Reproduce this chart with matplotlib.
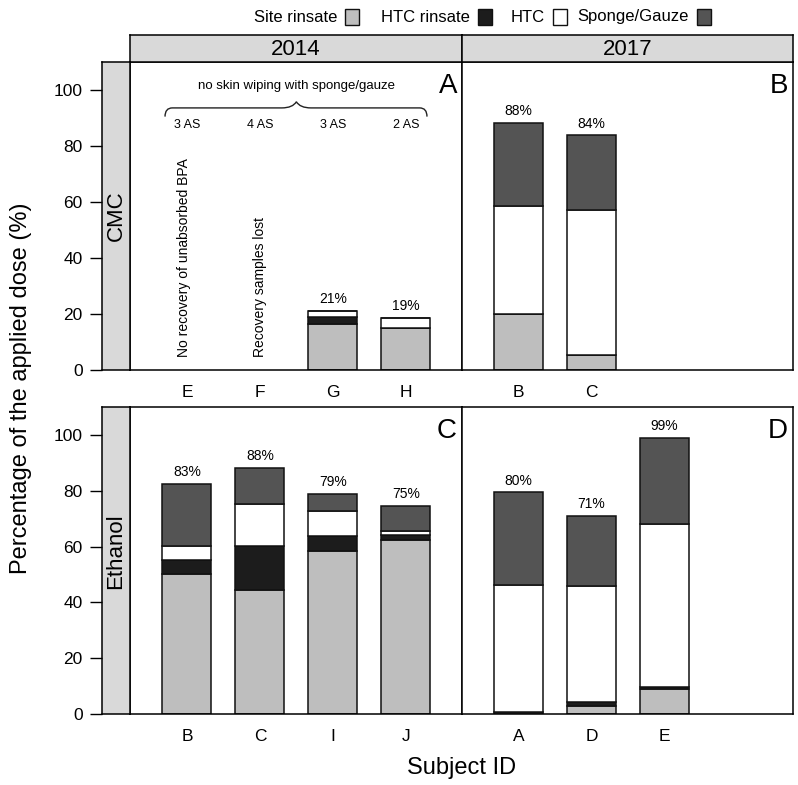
import matplotlib
matplotlib.use('Agg')
import matplotlib.pyplot as plt
from matplotlib.patches import Rectangle, PathPatch
from matplotlib.path import Path
import numpy as np

plt.rcParams['font.family'] = ['Liberation Sans', 'DejaVu Sans']

##### data (% of applied dose), stacked: site rinsate, HTC rinsate, HTC, sponge/gauze
cmc14_ids = ['E', 'F', 'G', 'H']
cmc14_site = [0, 0, 16.3, 14.9]
cmc14_htcr = [0, 0, 2.7, 0]
cmc14_htc = [0, 0, 2.1, 3.6]
cmc14_sponge = [0, 0, 0, 0]
cmc14_lab = ['', '', '21%', '19%']
cmc14_as = ['3 AS', '4 AS', '3 AS', '2 AS']

cmc17_ids = ['B', 'C']
cmc17_site = [19.9, 5.5]
cmc17_htcr = [0, 0]
cmc17_htc = [38.8, 51.6]
cmc17_sponge = [29.6, 26.7]
cmc17_lab = ['88%', '84%']

eth14_ids = ['B', 'C', 'I', 'J']
eth14_site = [50.2, 44.5, 58.3, 62.5]
eth14_htcr = [5.0, 15.6, 5.6, 1.8]
eth14_htc = [4.9, 15.1, 8.7, 1.4]
eth14_sponge = [22.3, 12.9, 6.2, 8.9]
eth14_lab = ['83%', '88%', '79%', '75%']

eth17_ids = ['A', 'D', 'E']
eth17_site = [0.8, 2.9, 8.8]
eth17_htcr = [0, 1.5, 0.7]
eth17_htc = [45.6, 41.3, 58.7]
eth17_sponge = [33.0, 25.4, 30.8]
eth17_lab = ['80%', '71%', '99%']

seg_names = ['Site rinsate', 'HTC rinsate', 'HTC', 'Sponge/Gauze']
seg_cols = ['#bebebe', '#1c1c1c', '#ffffff', '#545454']
strip_col = '#d9d9d9'

W, H = 798, 785
fig = plt.figure(figsize=(W / 100, H / 100), dpi=100)

def px_axes(x0, y0, x1, y1):
    return fig.add_axes([x0 / W, 1 - y1 / H, (x1 - x0) / W, (y1 - y0) / H])

XL = (-0.78, 3.77)
YL = (0, 110)
LW = 1.1

def panel(x0, y0, x1, y1, ids, segs, labs, letter):
    ax = px_axes(x0, y0, x1, y1)
    x = np.arange(len(ids))
    tot = np.sum(segs, axis=0)
    for i in x:
        if tot[i] == 0:
            continue
        bottom = 0
        for k in range(4):
            ax.bar(i, segs[k][i], bottom=bottom, width=0.67, color=seg_cols[k],
                   edgecolor='#111111', linewidth=LW)
            bottom += segs[k][i]
        ax.text(i, tot[i] + 1.7, labs[i], ha='center', va='bottom', fontsize=10)
    ax.set_xlim(XL)
    ax.set_ylim(YL)
    ax.set_xticks(x)
    ax.set_xticklabels(ids, fontsize=12.5)
    ax.tick_params(axis='x', length=0, pad=11)
    ax.set_yticks([])
    for s in ax.spines.values():
        s.set_linewidth(LW)
    ax.text(0.985, 0.965, letter, transform=ax.transAxes, ha='right', va='top', fontsize=20)
    return ax

def left_strip(y0, y1, name, ypos):
    ax = px_axes(102, y0, 130, y1)
    ax.set_facecolor(strip_col)
    ax.set_xlim(0, 1)
    ax.set_ylim(YL)
    ax.set_xticks([])
    ax.set_yticks([0, 20, 40, 60, 80, 100])
    ax.tick_params(axis='y', length=9, width=1.0, pad=5, labelsize=12.5)
    for s in ax.spines.values():
        s.set_linewidth(LW)
    ax.text(0.5, ypos, name, rotation=90, ha='center', va='center', fontsize=16,
            transform=ax.transAxes)

def top_strip(x0, x1, name):
    ax = px_axes(x0, 35, x1, 62)
    ax.set_facecolor(strip_col)
    ax.set_xticks([])
    ax.set_yticks([])
    for s in ax.spines.values():
        s.set_linewidth(LW)
    ax.text(0.5, 0.48, name, ha='center', va='center', fontsize=16, transform=ax.transAxes)

segsA = [cmc14_site, cmc14_htcr, cmc14_htc, cmc14_sponge]
segsB = [cmc17_site, cmc17_htcr, cmc17_htc, cmc17_sponge]
segsC = [eth14_site, eth14_htcr, eth14_htc, eth14_sponge]
segsD = [eth17_site, eth17_htcr, eth17_htc, eth17_sponge]

axA = panel(130, 62, 462, 370, cmc14_ids, segsA, cmc14_lab, 'A')
axB = panel(462, 62, 793, 370, cmc17_ids, segsB, cmc17_lab, 'B')
axC = panel(130, 407, 462, 714, eth14_ids, segsC, eth14_lab, 'C')
axD = panel(462, 407, 793, 714, eth17_ids, segsD, eth17_lab, 'D')

top_strip(130, 462, '2014')
top_strip(462, 793, '2017')
left_strip(62, 370, 'CMC', 0.5)
left_strip(407, 714, 'Ethanol', 0.53)

##### panel A notes
axA.text(1.5, 101.5, 'no skin wiping with sponge/gauze', ha='center', va='center',
         fontsize=9.5)
for i, s in enumerate(cmc14_as):
    axA.text(i, 87.5, s, ha='center', va='center', fontsize=9)
# curly brace
xa, xb, xm = -0.3, 3.29, 1.5
yb, yl, yt = 90.5, 93.6, 95.8
verts = [(xa, yb), (xa, yl), (xa + 0.1, yl), (xa + 0.2, yl),
         (xm - 0.2, yl), (xm - 0.05, yl), (xm, yt),
         (xm + 0.05, yl), (xm + 0.2, yl),
         (xb - 0.2, yl), (xb - 0.1, yl), (xb, yl), (xb, yb)]
codes = [Path.MOVETO, Path.CURVE3, Path.CURVE3, Path.LINETO,
         Path.LINETO, Path.CURVE3, Path.CURVE3,
         Path.CURVE3, Path.CURVE3,
         Path.LINETO, Path.LINETO, Path.CURVE3, Path.CURVE3]
axA.add_patch(PathPatch(Path(verts, codes), fill=False, lw=1.0, color='#222222'))
axA.text(-0.04, 4.6, 'No recovery of unabsorbed BPA', rotation=90, ha='center',
         va='bottom', fontsize=10)
axA.text(1.0, 4.6, 'Recovery samples lost', rotation=90, ha='center', va='bottom',
         fontsize=10)

##### axis titles
fig.text(21 / W, 1 - 388 / H, 'Percentage of the applied dose (%)', rotation=90,
         ha='center', va='center', fontsize=17)
fig.text(462 / W, 1 - 768 / H, 'Subject ID', ha='center', va='center', fontsize=17)

##### legend (label then box)
box_x = [345, 478, 553, 697]
for name, col, bx in zip(seg_names, seg_cols, box_x):
    fig.patches.append(Rectangle((bx / W, 1 - 25 / H), 14 / W, 16 / H, transform=fig.transFigure,
                                 facecolor=col, edgecolor='#111111', linewidth=1.0))
    fig.text((bx - 8) / W, 1 - 17 / H, name, ha='right', va='center', fontsize=12)

fig.savefig('out.png', dpi=100)
